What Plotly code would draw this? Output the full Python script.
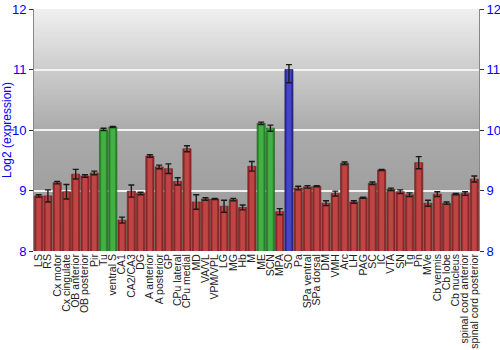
import plotly.graph_objects as go

regions = ["LS", "RS", "Cx motor", "Cx cingulate", "OB anterior", "OB posterior", "Pir", "Tu",
           "ventral S", "CA1", "CA2/CA3", "DG", "A anterior", "A posterior", "GP", "CPu lateral",
           "CPu medial", "MD", "VA/VL", "VPM/VPL", "LG", "MG", "Hb", "M", "ME", "SCN", "MPA", "SO",
           "Pa", "SPa ventral", "SPa dorsal", "DM", "VMH", "Arc", "LH", "PAG", "SC", "IC", "VTA",
           "SN", "Tg", "Pn", "MVe", "Cb vermis", "Cb lobe", "Cb nucleus", "spinal cord anterior",
           "spinal cord posterior"]

expression = [8.91, 8.91, 9.13, 8.98, 9.27, 9.24, 9.29, 10.01,
              10.05, 8.51, 8.99, 8.95, 9.57, 9.39, 9.36, 9.15,
              9.69, 8.81, 8.86, 8.86, 8.74, 8.85, 8.72, 9.40, 10.11, 10.03, 8.65, 11.00,
              9.04, 9.06, 9.07, 8.79, 8.95, 9.45, 8.81, 8.88, 9.12, 9.34, 9.02,
              8.98, 8.93, 9.46, 8.79, 8.94, 8.79, 8.94, 8.95, 9.19]

err_plus = [0.02, 0.10, 0.02, 0.12, 0.08, 0.02, 0.03, 0.02,
            0.01, 0.05, 0.10, 0.02, 0.02, 0.03, 0.08, 0.06,
            0.05, 0.12, 0.02, 0.01, 0.10, 0.02, 0.04, 0.08, 0.02, 0.05, 0.05, 0.08,
            0.03, 0.02, 0.01, 0.04, 0.04, 0.02, 0.02, 0.01, 0.02, 0.01, 0.02,
            0.03, 0.03, 0.10, 0.05, 0.04, 0.02, 0.01, 0.03, 0.05]
err_minus = list(err_plus)
err_minus[regions.index("SO")] = 0.22

green_regions = ["Tu", "ventral S", "ME", "SCN"]
blue_regions = ["SO"]

base_col = {"red": "#932929", "green": "#2a882a", "blue": "#2a2a98"}
hi_col = {"red": "#bf4545", "green": "#44b044", "blue": "#4646c4"}
line_col = {"red": "#6a1c1c", "green": "#1d5f1d", "blue": "#1d1d6a"}

def group(r):
    if r in green_regions:
        return "green"
    if r in blue_regions:
        return "blue"
    return "red"

groups = [group(r) for r in regions]

fig = go.Figure()
fig.add_trace(go.Bar(
    x=regions, y=[v - 8 for v in expression], base=8, width=0.88,
    marker=dict(color=[base_col[g] for g in groups],
                line=dict(color=[line_col[g] for g in groups], width=0.6)),
    hoverinfo="skip", showlegend=False))
fig.add_trace(go.Bar(
    x=regions, y=[v - 8 for v in expression], base=8, width=0.5,
    marker=dict(color=[hi_col[g] for g in groups], line=dict(width=0)),
    error_y=dict(type="data", array=err_plus, arrayminus=err_minus, symmetric=False,
                 color="#1a1a1a", thickness=1.4, width=3),
    showlegend=False))
fig.add_trace(go.Scatter(x=[regions[0]], y=[8], yaxis="y2", mode="markers",
                         marker=dict(opacity=0), hoverinfo="skip", showlegend=False))

# background vertical gradient
stops = [(8.0, 0x9c), (9.0, 0xa0), (10.0, 0xab), (11.0, 0xcc), (12.0, 0xf0)]
def grey_at(v):
    for (a, ca), (b, cb) in zip(stops[:-1], stops[1:]):
        if a <= v <= b:
            t = (v - a) / (b - a)
            return int(round(ca + (cb - ca) * t))
    return stops[-1][1]

shapes = []
n = 80
for i in range(n):
    y0 = 8 + 4 * i / n
    y1 = min(12, 8 + 4 * (i + 1) / n + 0.03)
    g = grey_at(8 + 4 * (i + 0.5) / n)
    shapes.append(dict(type="rect", xref="paper", yref="y", x0=0, x1=1, y0=y0, y1=y1,
                       fillcolor=f"rgb({g},{g},{g})", line=dict(width=0), layer="below"))

axis_font = dict(family="Liberation Sans, Arial, sans-serif", size=13, color="#0000ff")
fig.update_layout(
    width=500, height=350,
    margin=dict(l=34, r=21, t=9, b=99),
    paper_bgcolor="white", plot_bgcolor="#b0b0b0",
    barmode="overlay", bargap=0.1,
    shapes=shapes,
    font=dict(family="Liberation Sans, Arial, sans-serif"),
    xaxis=dict(type="category", tickangle=-90, range=[-0.5, len(regions) - 0.5],
               tickmode="array", tickvals=regions, ticktext=regions,
               tickfont=dict(family="Liberation Sans, Arial, sans-serif", size=10.5, color="#222222"),
               showgrid=False, showline=False, ticks="", zeroline=False, automargin=False),
    yaxis=dict(range=[8, 12], dtick=1, tick0=8, showgrid=True, gridcolor="#f2f2f2", gridwidth=1.5,
               tickfont=axis_font, ticks="outside", ticklen=4, tickcolor="#333333",
               showline=True, linecolor="#888888", linewidth=1, zeroline=False,
               title=dict(text="Log2 (expression)", font=dict(family="Liberation Sans, Arial, sans-serif",
                                                            size=12, color="#0000ff"), standoff=6),
               automargin=False),
    yaxis2=dict(range=[8, 12], dtick=1, tick0=8, overlaying="y", side="right", showgrid=False,
                tickfont=axis_font, ticks="outside", ticklen=4, tickcolor="#333333",
                showline=True, linecolor="#888888", linewidth=1, zeroline=False, automargin=False),
)

fig.write_html("out.html")
